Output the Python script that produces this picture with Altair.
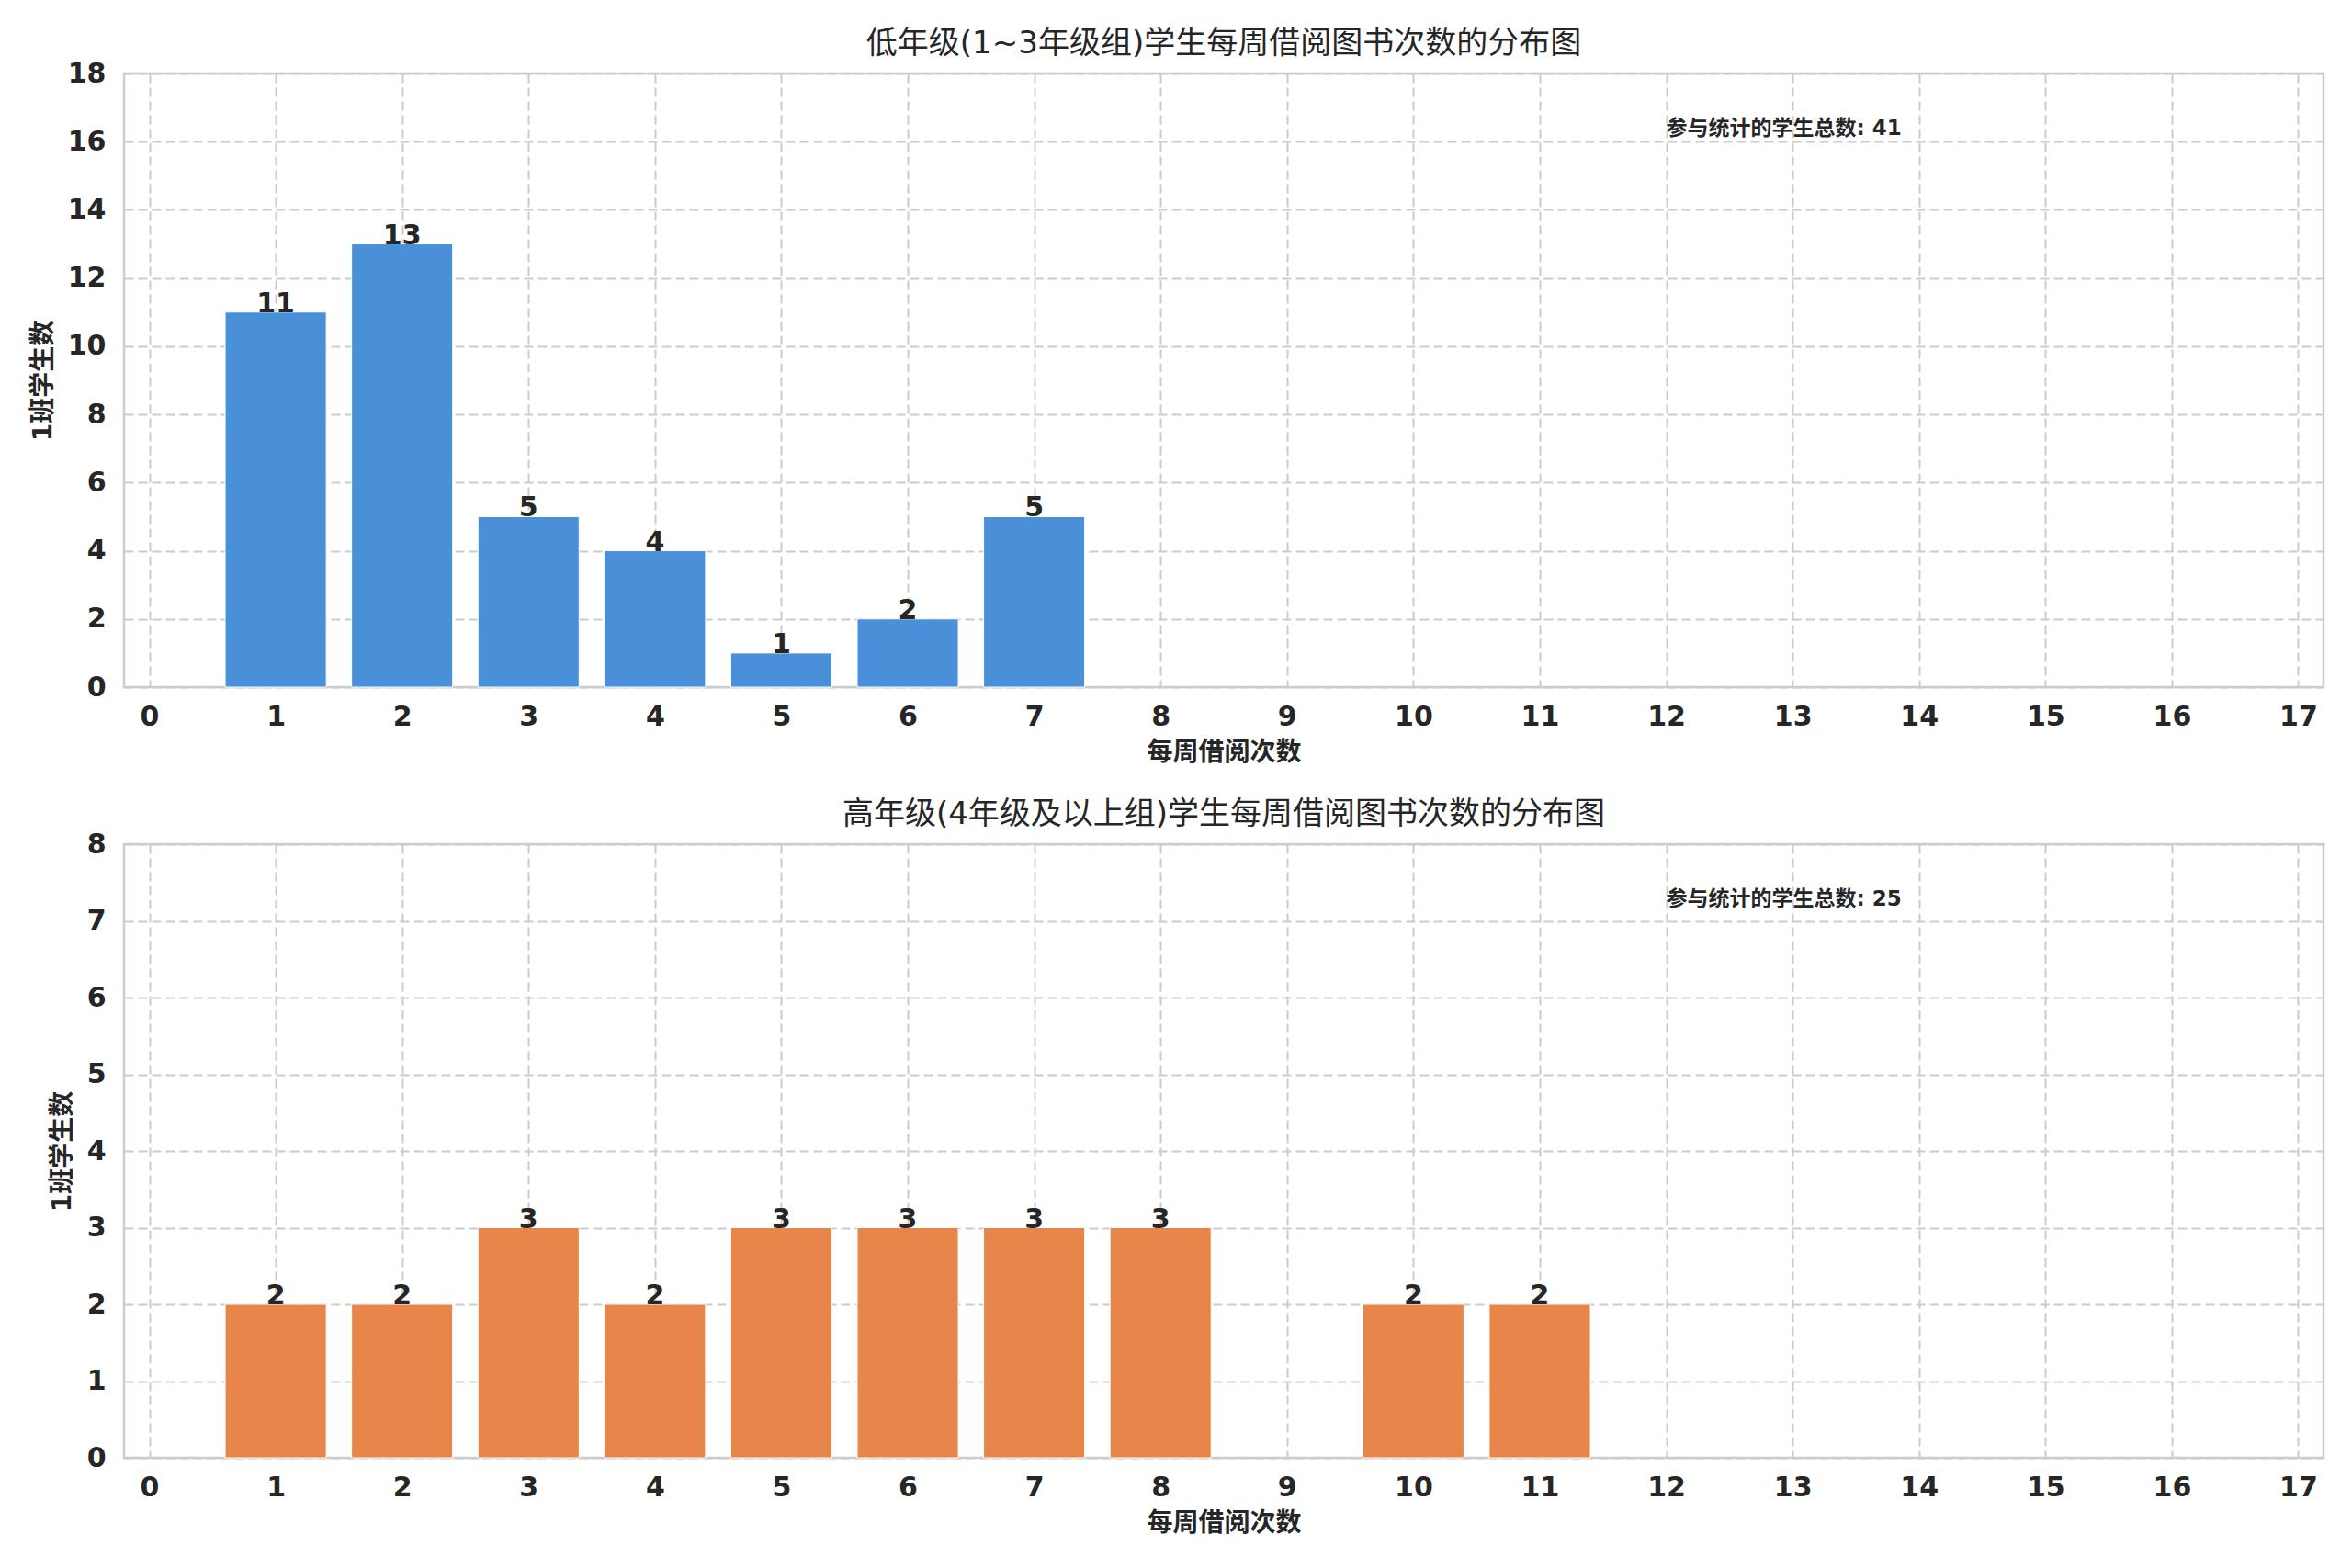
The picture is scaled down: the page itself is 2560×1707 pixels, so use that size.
import altair as alt
import pandas as pd

# ---- data ----
low_counts_x = [1, 2, 3, 4, 5, 6, 7]
low_counts_y = [11, 13, 5, 4, 1, 2, 5]

high_counts_x = [1, 2, 3, 4, 5, 6, 7, 8, 10, 11]
high_counts_y = [2, 2, 3, 2, 3, 3, 3, 3, 2, 2]

x_ticks = list(range(0, 18))
top_y_ticks = list(range(0, 19, 2))
bottom_y_ticks = list(range(0, 9, 1))

title_low = "低年级(1~3年级组)学生每周借阅图书次数的分布图"
title_high = "高年级(4年级及以上组)学生每周借阅图书次数的分布图"
x_title = "每周借阅次数"
y_title = "1班学生数"
total_label = "参与统计的学生总数"

BLUE = "#4A90D9"
ORANGE = "#E8854A"
FONT = "DejaVu Sans, Noto Sans CJK SC, sans-serif"
TEXT = "#262626"


def panel(xs, ys, color, ymax, yticks, title):
    df = pd.DataFrame({"x": xs, "y": ys})
    xscale = alt.Scale(domain=[-0.2, 17.2], nice=False, zero=False)
    yscale = alt.Scale(domain=[0, ymax], nice=False)
    xaxis = alt.Axis(values=x_ticks, title=x_title, format="d")
    yaxis = alt.Axis(values=yticks, title=y_title, format="d")

    bars = (
        alt.Chart(df)
        .transform_calculate(x0="datum.x - 0.4", x1="datum.x + 0.4")
        .mark_bar(color=color, stroke="white", strokeWidth=1)
        .encode(
            x=alt.X("x0:Q", scale=xscale, axis=xaxis),
            x2="x1:Q",
            y=alt.Y("y:Q", scale=yscale, axis=yaxis),
            y2=alt.datum(0),
        )
    )
    labels = (
        alt.Chart(df)
        .mark_text(baseline="alphabetic", fontSize=30, fontWeight="bold", color=TEXT, font=FONT)
        .encode(x=alt.X("x:Q", scale=xscale), y=alt.Y("y:Q", scale=yscale), text="y:Q")
    )
    total = sum(ys)
    ann_df = pd.DataFrame({"x": [12], "y": [ymax * 0.91], "t": [f"{total_label}: {total}"]})
    ann = (
        alt.Chart(ann_df)
        .mark_text(align="left", baseline="middle", fontSize=23, fontWeight="bold", color=TEXT, font=FONT)
        .encode(x=alt.X("x:Q", scale=xscale), y=alt.Y("y:Q", scale=yscale), text="t:N")
    )
    return alt.layer(bars, labels, ann).properties(
        width=2394,
        height=668,
        title=alt.TitleParams(title, fontSize=34, fontWeight="normal", color=TEXT, font=FONT, offset=0),
    )


top = panel(low_counts_x, low_counts_y, BLUE, 18, top_y_ticks, title_low)
bottom = panel(high_counts_x, high_counts_y, ORANGE, 8, bottom_y_ticks, title_high)

chart = (
    alt.vconcat(top, bottom, spacing=33)
    .properties(padding={"left": 24, "top": 21, "right": 10, "bottom": 5}, background="white")
    .configure(font=FONT)
    .configure_view(stroke="#cccccc", strokeWidth=2.5)
    .configure_axis(
        grid=True,
        gridColor="#cccccc",
        gridDash=[10, 5],
        gridWidth=2,
        domain=False,
        ticks=False,
        labelFont=FONT,
        labelFontSize=30,
        labelFontWeight="bold",
        labelColor=TEXT,
        titleFont=FONT,
        titleFontSize=28,
        titleFontWeight="bold",
        titleColor=TEXT,
    )
    .configure_axisX(labelPadding=17, titlePadding=10)
    .configure_axisY(labelPadding=20, titlePadding=12)
)

chart.save("out.html", embed_options={"renderer": "svg", "actions": False})
